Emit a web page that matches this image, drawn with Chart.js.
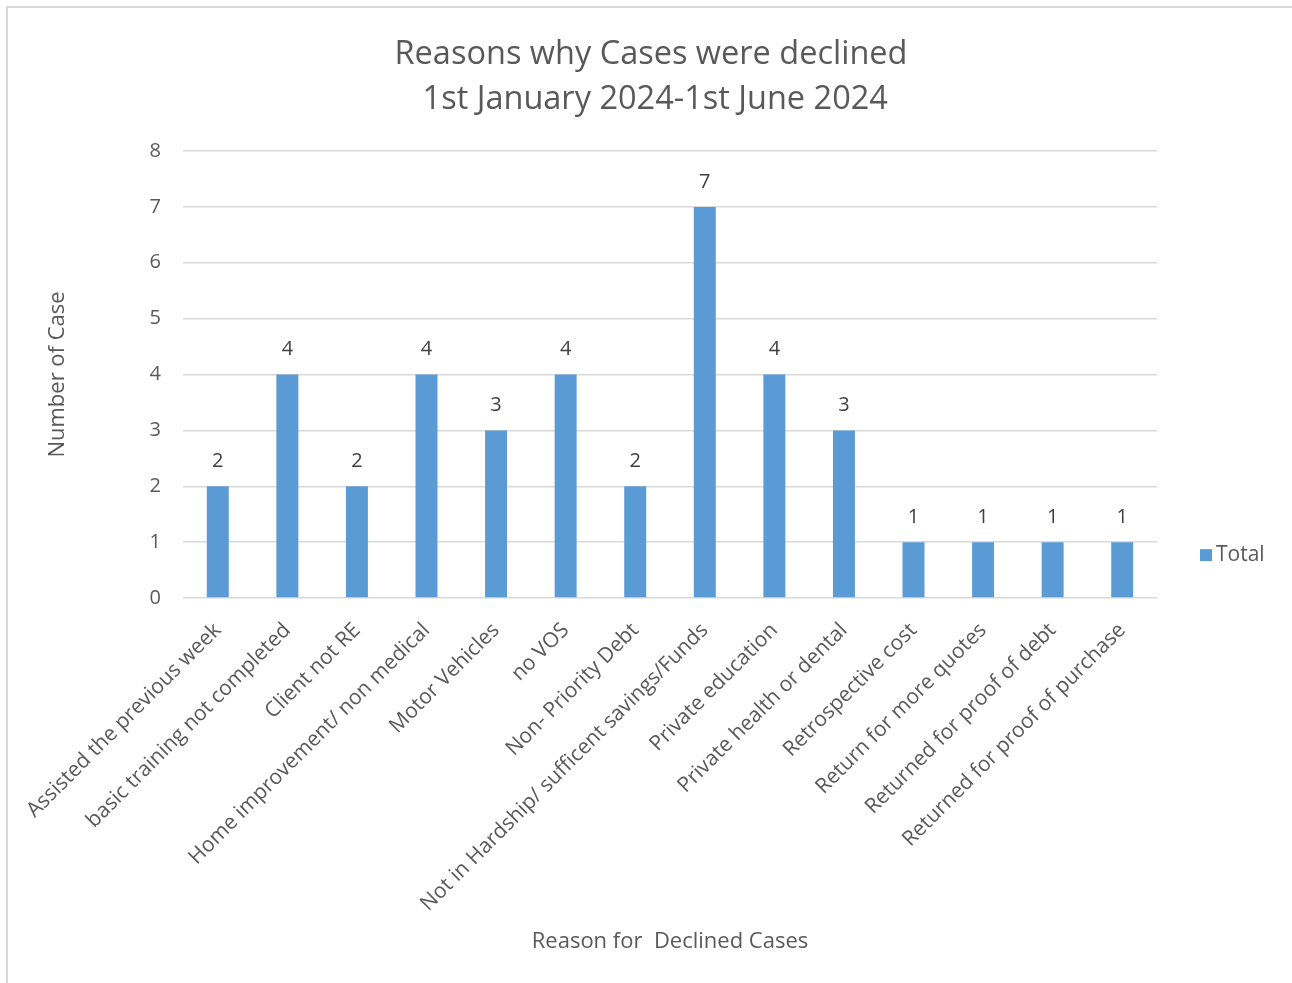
<!DOCTYPE html>
<html>
<head>
<meta charset="utf-8">
<script src="https://cdn.jsdelivr.net/npm/chart.js@4.4.1/dist/chart.umd.min.js"></script>
<style>
  html, body { margin: 0; padding: 0; background: #ffffff; }
  #wrap { position: absolute; left: 0; top: 0; width: 1292px; height: 983px; }
  #frame { position: absolute; left: 6px; top: 6px; width: 1300px; height: 1000px; border-left: 2px solid #d9d9d9; border-top: 2px solid #d9d9d9; pointer-events: none; }
  canvas { position: absolute; left: 0; top: 0; }
</style>
</head>
<body>
<div id="wrap">
  <canvas id="c" width="1292" height="983"></canvas>
  <div id="frame"></div>
</div>
<script>
const titleLines = ['Reasons why Cases were declined', ' 1st January 2024-1st June 2024'];
const categories = [
  'Assisted the previous week',
  'basic training not completed',
  'Client not RE',
  'Home improvement/ non medical',
  'Motor Vehicles',
  'no VOS',
  'Non- Priority Debt',
  'Not in Hardship/ sufficent savings/Funds',
  'Private education',
  'Private health or dental',
  'Retrospective cost',
  'Return for more quotes',
  'Returned for proof of debt',
  'Returned for proof of purchase'
];
const totalValues = [2, 4, 2, 4, 3, 4, 2, 7, 4, 3, 1, 1, 1, 1];
const seriesName = 'Total';
const yTicks = [0, 1, 2, 3, 4, 5, 6, 7, 8];
const yAxisTitle = 'Number of Case';
const xAxisTitle = 'Reason for  Declined Cases';

const FONT = "'Open Sans', 'DejaVu Sans', sans-serif";
const GREY = '#595959';
const BAR = '#5b9bd5';

const chartTitle = {
  id: 'chartTitle',
  afterDraw(chart) {
    const ctx = chart.ctx;
    ctx.save();
    ctx.font = '32.5px ' + FONT;
    ctx.fillStyle = GREY;
    ctx.textAlign = 'center';
    ctx.textBaseline = 'middle';
    titleLines.forEach((t, i) => ctx.fillText(t, 651, 55 + i * 45));
    ctx.restore();
  }
};

const dataLabels = {
  id: 'dataLabels',
  afterDatasetsDraw(chart) {
    const ctx = chart.ctx;
    ctx.save();
    ctx.font = '20px ' + FONT;
    ctx.fillStyle = '#404040';
    ctx.textAlign = 'center';
    ctx.textBaseline = 'middle';
    chart.data.datasets.forEach((ds, i) => {
      chart.getDatasetMeta(i).data.forEach((bar, j) => {
        ctx.fillText(String(ds.data[j]), bar.x, bar.y - 25);
      });
    });
    ctx.restore();
  }
};

const sideLegend = {
  id: 'sideLegend',
  afterDraw(chart) {
    const ctx = chart.ctx;
    const ds = chart.data.datasets[0];
    const yMid = chart.scales.y.getPixelForValue(1) + 13;
    const x0 = chart.chartArea.right + 43;
    ctx.save();
    ctx.fillStyle = ds.backgroundColor;
    ctx.fillRect(x0, yMid - 6, 12, 12);
    ctx.font = '21px ' + FONT;
    ctx.fillStyle = GREY;
    ctx.textAlign = 'left';
    ctx.textBaseline = 'middle';
    ctx.fillText(ds.label, x0 + 16, yMid);
    ctx.restore();
  }
};

new Chart(document.getElementById('c'), {
  type: 'bar',
  data: {
    labels: categories,
    datasets: [{
      label: seriesName,
      data: totalValues,
      backgroundColor: BAR,
      borderWidth: 0,
      categoryPercentage: 1.0,
      barPercentage: 0.316
    }]
  },
  options: {
    responsive: false,
    animation: false,
    devicePixelRatio: 1,
    layout: { padding: { left: 0, right: 135, top: 151, bottom: 0 } },
    plugins: {
      legend: { display: false },
      tooltip: { enabled: false },
      title: { display: false }
    },
    scales: {
      x: {
        grid: { display: false, drawTicks: false },
        border: { display: false },
        ticks: {
          color: GREY,
          font: { family: FONT, size: 21 },
          minRotation: 45,
          maxRotation: 45,
          autoSkip: false,
          padding: 20
        },
        title: {
          display: true,
          text: xAxisTitle,
          color: GREY,
          font: { family: FONT, size: 22 },
          padding: { top: 0, bottom: 28 }
        },
        afterFit(scale) { scale.height = 983 - 598; }
      },
      y: {
        min: 0,
        max: 8,
        afterBuildTicks(scale) { scale.ticks = yTicks.map(v => ({ value: v })); },
        grid: { color: '#d9d9d9', lineWidth: 1.5, drawTicks: false },
        border: { display: false },
        ticks: {
          color: GREY,
          font: { family: FONT, size: 20 },
          padding: 22
        },
        title: {
          display: true,
          text: yAxisTitle,
          color: GREY,
          font: { family: FONT, size: 22 },
          padding: { top: 45, bottom: 0 }
        },
        afterFit(scale) { scale.width = 183; }
      }
    }
  },
  plugins: [dataLabels, sideLegend, chartTitle]
});
</script>
</body>
</html>
